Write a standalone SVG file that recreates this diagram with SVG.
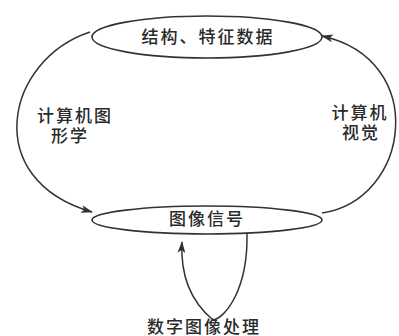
<svg xmlns="http://www.w3.org/2000/svg" width="399" height="336" viewBox="0 0 399 336">
<style>
.n{fill:none;stroke:#333;stroke-width:1.6}
.c{fill:none;stroke:#333;stroke-width:1.5}
.t{font-family:"Noto Sans CJK SC","Liberation Serif",serif;fill:#2a2a2a;font-size:17px;font-weight:500;letter-spacing:2px}
</style>
<defs>
<marker id="ah" viewBox="0 0 12 8" refX="11" refY="4" markerWidth="12" markerHeight="8" markerUnits="userSpaceOnUse" orient="auto">
<path d="M0,0 L12,4 L0,8 L3,4 Z" fill="#333"/>
</marker>
</defs>
<rect width="399" height="336" fill="#fff"/>
<g id="node-top">
<ellipse class="n" cx="207" cy="37" rx="115" ry="21"/>
<text class="t" x="208" y="43" text-anchor="middle" font-size="18">结构、特征数据</text>
</g>
<g id="node-bottom">
<ellipse class="n" cx="207" cy="220" rx="115" ry="14"/>
<text class="t" x="207" y="225" text-anchor="middle">图像信号</text>
</g>
<g id="label-cg">
<text class="t" x="75" y="122" text-anchor="middle">计算机图</text>
<text class="t" x="70" y="142" text-anchor="middle">形学</text>
</g>
<g id="label-cv">
<text class="t" x="360" y="119" text-anchor="middle">计算机</text>
<text class="t" x="361" y="139" text-anchor="middle">视觉</text>
</g>
<g id="label-dip">
<text class="t" x="204" y="333" text-anchor="middle">数字图像处理</text>
</g>
<g id="connectors">
<path class="c" d="M90 32 C5 60, -20 180, 92 212" marker-end="url(#ah)"/>
<path class="c" d="M322 213 C410 200, 430 60, 322 36" marker-end="url(#ah)"/>
<path class="c" d="M247 234 C248 290, 225 318, 213 320 C195 305, 180 280, 182 242" marker-end="url(#ah)"/>
</g>
</svg>
